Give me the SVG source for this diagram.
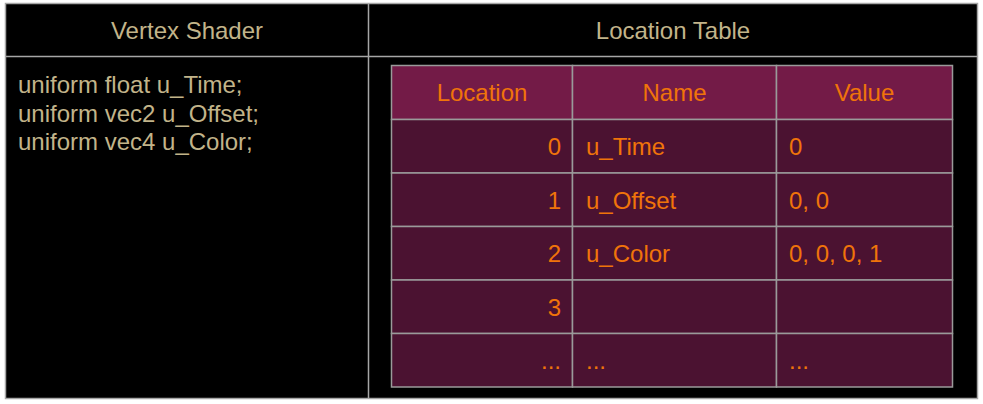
<svg xmlns="http://www.w3.org/2000/svg" width="983" height="404" viewBox="0 0 983 404">
<style>
.frame{fill:#000;stroke:#a6a6a6;stroke-width:1.5}
.div{stroke:#a6a6a6;stroke-width:1.5;fill:none}
.hd{font-family:"Liberation Sans",Arial,sans-serif;font-size:24px;fill:#c2b48a;text-anchor:middle}
.code{font-family:"Liberation Sans",Arial,sans-serif;font-size:24px;fill:#c2b48a}
.th{fill:#731b47;stroke:#9a9a9a;stroke-width:1.5}
.td{fill:#4b1231;stroke:#9a9a9a;stroke-width:1.5}
.t{font-family:"Liberation Sans",Arial,sans-serif;font-size:24px;fill:#f0740a}
.c{text-anchor:middle}
.r{text-anchor:end}
</style>
<rect width="983" height="404" fill="#fff"/>
<g id="frame">
<rect class="frame" x="5.5" y="3.5" width="972" height="395"/>
<line class="div" x1="368.5" y1="3.5" x2="368.5" y2="398.5"/>
<line class="div" x1="5.5" y1="56.5" x2="977.5" y2="56.5"/>
<text class="hd" x="187" y="39">Vertex Shader</text>
<text class="hd" x="673" y="39">Location Table</text>
</g>
<g id="shader">
<text class="code" x="18" y="93">uniform float u_Time;</text>
<text class="code" x="18" y="121.5">uniform vec2 u_Offset;</text>
<text class="code" x="18" y="150">uniform vec4 u_Color;</text>
</g>
<g id="table">
<rect class="th" x="391.5" y="65.5" width="181" height="54"/>
<rect class="th" x="572.5" y="65.5" width="204" height="54"/>
<rect class="th" x="776.5" y="65.5" width="176" height="54"/>
<g id="body">
<rect class="td" x="391.5" y="119.5" width="181" height="53.5"/>
<rect class="td" x="572.5" y="119.5" width="204" height="53.5"/>
<rect class="td" x="776.5" y="119.5" width="176" height="53.5"/>
<rect class="td" x="391.5" y="173" width="181" height="53.5"/>
<rect class="td" x="572.5" y="173" width="204" height="53.5"/>
<rect class="td" x="776.5" y="173" width="176" height="53.5"/>
<rect class="td" x="391.5" y="226.5" width="181" height="53.5"/>
<rect class="td" x="572.5" y="226.5" width="204" height="53.5"/>
<rect class="td" x="776.5" y="226.5" width="176" height="53.5"/>
<rect class="td" x="391.5" y="280" width="181" height="53.5"/>
<rect class="td" x="572.5" y="280" width="204" height="53.5"/>
<rect class="td" x="776.5" y="280" width="176" height="53.5"/>
<rect class="td" x="391.5" y="333.5" width="181" height="53.5"/>
<rect class="td" x="572.5" y="333.5" width="204" height="53.5"/>
<rect class="td" x="776.5" y="333.5" width="176" height="53.5"/>
</g>
<text class="t c" x="482" y="101">Location</text>
<text class="t c" x="674.5" y="101">Name</text>
<text class="t c" x="864.5" y="101">Value</text>
<text class="t r" x="561" y="155">0</text>
<text class="t" x="586" y="155">u_Time</text>
<text class="t" x="789" y="155">0</text>
<text class="t r" x="561" y="208.5">1</text>
<text class="t" x="586" y="208.5">u_Offset</text>
<text class="t" x="789" y="208.5">0, 0</text>
<text class="t r" x="561" y="262">2</text>
<text class="t" x="586" y="262">u_Color</text>
<text class="t" x="789" y="262">0, 0, 0, 1</text>
<text class="t r" x="561" y="315.5">3</text>
<text class="t r" x="561" y="369">...</text>
<text class="t" x="586" y="369">...</text>
<text class="t" x="789" y="369">...</text>
</g>
</svg>
